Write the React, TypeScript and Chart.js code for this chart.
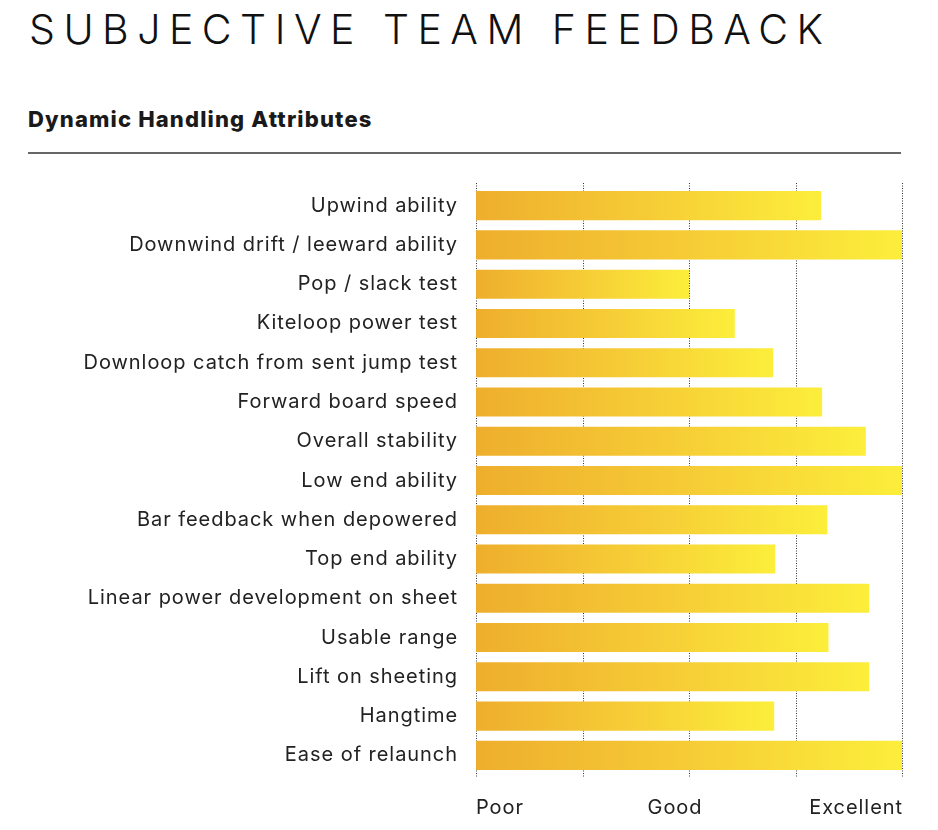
import React, { useEffect, useRef } from "react";
import { Chart, registerables } from "chart.js";

Chart.register(...registerables);

const categories = [
  "Upwind ability",
  "Downwind drift / leeward ability",
  "Pop / slack test",
  "Kiteloop power test",
  "Downloop catch from sent jump test",
  "Forward board speed",
  "Overall stability",
  "Low end ability",
  "Bar feedback when depowered",
  "Top end ability",
  "Linear power development on sheet",
  "Usable range",
  "Lift on sheeting",
  "Hangtime",
  "Ease of relaunch",
];

const scores = [3.24, 4.0, 2.0, 2.43, 2.79, 3.25, 3.66, 4.0, 3.3, 2.81, 3.69, 3.31, 3.69, 2.8, 4.0];

const tickValues = [0, 1, 2, 3, 4];
const scaleLabels = ["Poor", "Good", "Excellent"];
const scaleLabelValues = [0, 2, 4];

const FONT = "Inter, 'Noto Sans', sans-serif";
const LABEL_SPACING = "0.95px";

const dottedGrid = {
  id: "dottedGrid",
  beforeDraw(chart: any) {
    (chart.ctx as any).letterSpacing = LABEL_SPACING;
  },
  beforeDatasetsDraw(chart: any) {
    const { ctx, chartArea } = chart;
    const xs = chart.scales.x;
    ctx.save();
    ctx.strokeStyle = "#333";
    ctx.lineWidth = 1;
    ctx.setLineDash([1, 1.5]);
    tickValues.forEach((v) => {
      const x = Math.round(xs.getPixelForValue(v)) + 0.5;
      ctx.beginPath();
      ctx.moveTo(x, chartArea.top - 3);
      ctx.lineTo(x, chartArea.bottom + 3);
      ctx.stroke();
    });
    ctx.restore();
  },
  afterDraw(chart: any) {
    const { ctx, chartArea } = chart;
    const xs = chart.scales.x;
    ctx.save();
    (ctx as any).letterSpacing = LABEL_SPACING;
    ctx.font = `20px ${FONT}`;
    ctx.fillStyle = "#222";
    ctx.textBaseline = "middle";
    const aligns: CanvasTextAlign[] = ["left", "center", "right"];
    const shifts = [0, -14, 1];
    scaleLabels.forEach((t, i) => {
      ctx.textAlign = aligns[i];
      ctx.fillText(t, xs.getPixelForValue(scaleLabelValues[i]) + shifts[i], chartArea.bottom + 33);
    });
    ctx.restore();
    (ctx as any).letterSpacing = "0px";
  },
};

export default function App() {
  const ref = useRef<HTMLCanvasElement | null>(null);

  useEffect(() => {
    if (!ref.current) return;
    const chart = new Chart(ref.current, {
      type: "bar",
      data: {
        labels: categories,
        datasets: [
          {
            data: scores,
            backgroundColor: (c: any) => {
              const ch = c.chart;
              const xs = ch.scales && ch.scales.x;
              if (!xs || c.raw == null) return "#F6CF35";
              const x0 = xs.getPixelForValue(0);
              const x1 = xs.getPixelForValue(c.raw);
              if (!Number.isFinite(x0) || !Number.isFinite(x1) || x1 <= x0) return "#F6CF35";
              const g = ch.ctx.createLinearGradient(x0, 0, x1, 0);
              g.addColorStop(0, "#EEAE2D");
              g.addColorStop(0.5, "#F6CC36");
              g.addColorStop(1, "#FCEE3B");
              return g;
            },
            borderWidth: 0,
            barPercentage: 1,
            categoryPercentage: 0.74,
          },
        ],
      },
      options: {
        indexAxis: "y",
        animation: false,
        responsive: true,
        maintainAspectRatio: false,
        layout: { padding: { top: 14, right: 36, left: 0, bottom: 0 } },
        plugins: { legend: { display: false }, tooltip: { enabled: false } },
        scales: {
          x: {
            min: 0,
            max: 4,
            grid: { display: false, drawTicks: false },
            border: { display: false },
            afterFit: (s: any) => {
              s.height = 55;
            },
            ticks: { display: false, stepSize: 1 },
          },
          y: {
            grid: { display: false, drawTicks: false },
            border: { display: false },
            afterFit: (s: any) => {
              s.width = 476;
            },
            ticks: {
              padding: 18,
              color: "#222",
              font: { family: FONT, size: 20 },
            },
          },
        },
      },
      plugins: [dottedGrid],
    });
    return () => chart.destroy();
  }, []);

  return (
    <div style={{ position: "absolute", left: 0, top: 0, width: 938, height: 830, background: "#fff", overflow: "hidden" }}>
      <div
        style={{
          position: "absolute",
          left: 29,
          top: 9,
          fontFamily: FONT,
          fontWeight: 300,
          fontSize: 41,
          lineHeight: "41px",
          letterSpacing: "0.207em",
          color: "#111",
          whiteSpace: "nowrap",
        }}
      >
        SUBJECTIVE TEAM FEEDBACK
      </div>
      <div
        style={{
          position: "absolute",
          left: 28,
          top: 109,
          fontFamily: FONT,
          fontWeight: 800,
          fontSize: 22,
          lineHeight: "20px",
          letterSpacing: "1.15px",
          color: "#1a1a1a",
          whiteSpace: "nowrap",
        }}
      >
        Dynamic Handling Attributes
      </div>
      <div style={{ position: "absolute", left: 28, top: 152, width: 873, height: 2, background: "#666" }} />
      <div style={{ position: "absolute", left: 0, top: 156, width: 938, height: 674 }}>
        <canvas ref={ref} />
      </div>
    </div>
  );
}
